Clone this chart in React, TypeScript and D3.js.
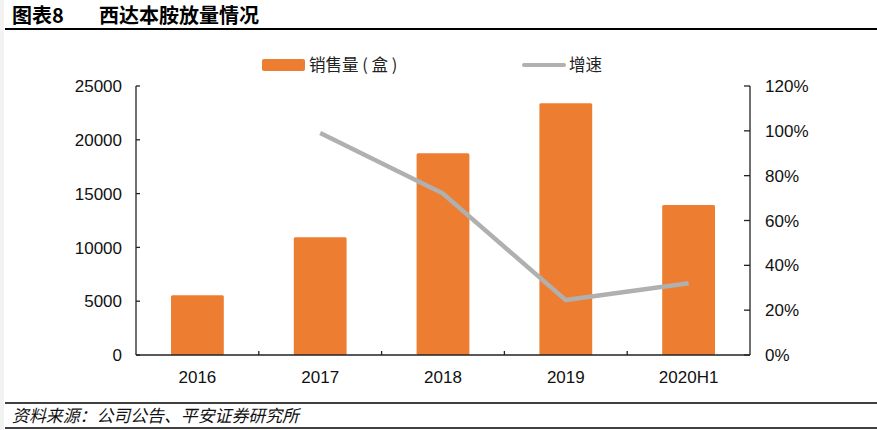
import React from "react";
import { scaleBand, scaleLinear, line } from "d3";

const categories = ["2016", "2017", "2018", "2019", "2020H1"];
const sales = [5550, 10950, 18750, 23400, 13950];
const growth = [null, 0.99, 0.72, 0.245, 0.32];
const leftTicks = [0, 5000, 10000, 15000, 20000, 25000];
const rightTicks = [0, 0.2, 0.4, 0.6, 0.8, 1.0, 1.2];

const W = 877;
const H = 430;
const LEFT = 136;
const RIGHT = 750;
const TOP = 86;
const BOTTOM = 355;
const ORANGE = "#ED7D31";
const GRAY = "#B0B0B0";
const FONT = "'Liberation Sans', Arial, sans-serif";
const CJK = "'Noto Sans CJK SC', sans-serif";

export default function App() {
  const x = scaleBand<string>().domain(categories).range([LEFT, RIGHT]).paddingInner(0).paddingOuter(0);
  const yL = scaleLinear().domain([0, 25000]).range([BOTTOM, TOP]);
  const yR = scaleLinear().domain([0, 1.2]).range([BOTTOM, TOP]);
  const barW = x.bandwidth() * 0.43;

  const pts = categories
    .map((c, i) => [c, growth[i]] as [string, number | null])
    .filter((d) => d[1] !== null) as [string, number][];
  const growthLine = line<[string, number]>()
    .x((d) => x(d[0])! + x.bandwidth() / 2)
    .y((d) => yR(d[1]));

  return (
    <svg width={W} height={H} style={{ position: "absolute", left: 0, top: 0, background: "#fff" }}>
      <rect x={0} y={0} width={4} height={H} fill="#f2f2f2" />
      {/* title */}
      <text x={12} y={23} fontFamily={CJK} fontWeight="bold" fontSize={20} fill="#000">
        图表8
      </text>
      <text x={99} y={23} fontFamily={CJK} fontWeight="bold" fontSize={20} fill="#000">
        西达本胺放量情况
      </text>
      <line x1={5} x2={W} y1={29} y2={29} stroke="#000" strokeWidth={2} />

      {/* legend */}
      <rect x={262} y={59} width={43} height={12} rx={2} fill={ORANGE} />
      <text x={309} y={71} fontFamily={CJK} fontSize={16.5} fill="#222">
        销售量 ( 盒 )
      </text>
      <line x1={524} x2={564} y1={65} y2={65} stroke={GRAY} strokeWidth={4} strokeLinecap="round" />
      <text x={569} y={71} fontFamily={CJK} fontSize={16.5} fill="#222">
        增速
      </text>

      {/* bars */}
      {categories.map((c, i) => (
        <rect
          key={c}
          x={x(c)! + (x.bandwidth() - barW) / 2}
          y={yL(sales[i])}
          width={barW}
          height={BOTTOM - yL(sales[i])}
          rx={1.5}
          fill={ORANGE}
        />
      ))}

      {/* growth line */}
      <path d={growthLine(pts)!} fill="none" stroke={GRAY} strokeWidth={4.5} strokeLinejoin="round" />

      {/* left axis */}
      <line x1={LEFT} x2={LEFT} y1={TOP} y2={BOTTOM} stroke="#222" strokeWidth={1.3} />
      {leftTicks.map((v) => (
        <g key={v} transform={`translate(${LEFT}, ${yL(v)})`}>
          <line x2={4} stroke="#222" strokeWidth={1.3} />
          <text x={-14} dy="0.36em" textAnchor="end" fontFamily={FONT} fontSize={17} fill="#111">
            {v}
          </text>
        </g>
      ))}

      {/* right axis */}
      <line x1={RIGHT} x2={RIGHT} y1={TOP} y2={BOTTOM} stroke="#222" strokeWidth={1.3} />
      {rightTicks.map((v) => (
        <g key={v} transform={`translate(${RIGHT}, ${yR(v)})`}>
          <line x2={-6} stroke="#222" strokeWidth={1.3} />
          <text x={15} dy="0.36em" textAnchor="start" fontFamily={FONT} fontSize={17} fill="#111">
            {Math.round(v * 100)}%
          </text>
        </g>
      ))}

      {/* x axis */}
      <line x1={LEFT} x2={RIGHT} y1={BOTTOM} y2={BOTTOM} stroke="#222" strokeWidth={1.5} />
      {categories.slice(1).map((c) => (
        <line key={c} x1={x(c)!} x2={x(c)!} y1={BOTTOM} y2={BOTTOM - 4} stroke="#222" strokeWidth={1.3} />
      ))}
      {categories.map((c) => (
        <text
          key={c}
          x={x(c)! + x.bandwidth() / 2}
          y={383}
          textAnchor="middle"
          fontFamily={FONT}
          fontSize={17}
          fill="#111"
        >
          {c}
        </text>
      ))}

      {/* footer */}
      <line x1={5} x2={W} y1={403} y2={403} stroke="#000" strokeWidth={1.5} />
      <text
        x={12}
        y={422}
        fontFamily={CJK}
        fontStyle="italic"
        fontSize={17}
        textLength={287}
        lengthAdjust="spacingAndGlyphs"
        fill="#111"
      >
        资料来源：公司公告、平安证券研究所
      </text>
      <line x1={5} x2={W} y1={428} y2={428} stroke="#000" strokeWidth={1.5} />
    </svg>
  );
}
